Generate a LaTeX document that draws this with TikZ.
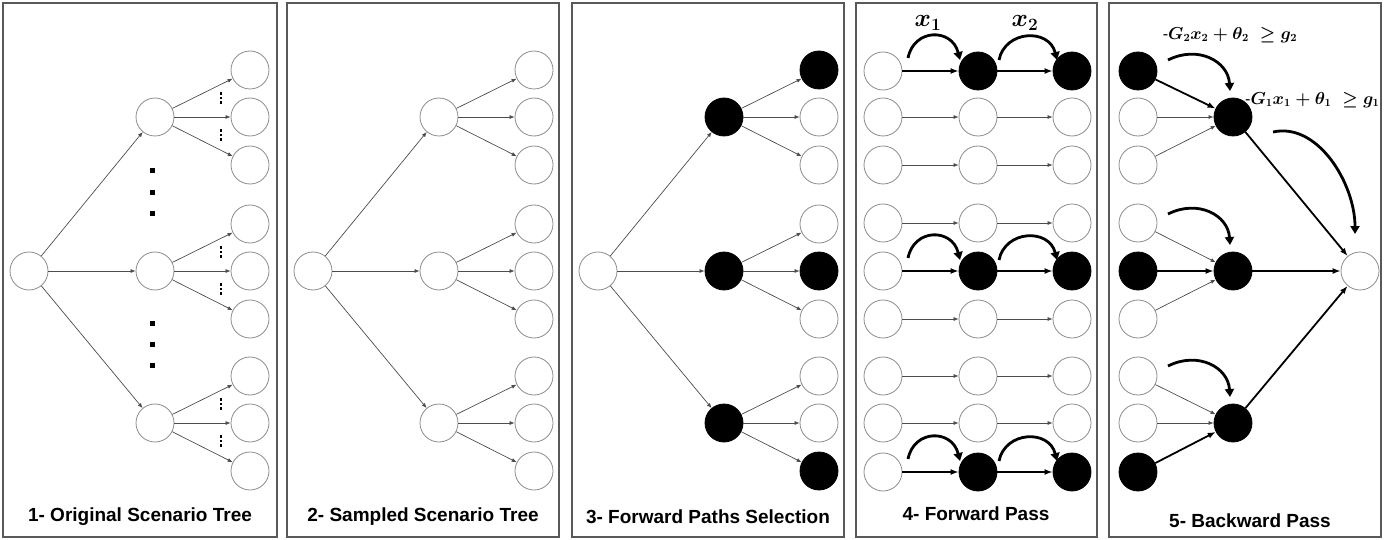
\documentclass[tikz,border=0pt]{standalone}
\usepackage{fontspec}
\setmainfont{Liberation Sans}
\usetikzlibrary{positioning, arrows.meta}

\begin{document}
\begin{tikzpicture}[x=1pt, y=-1pt,
    panel/.style={draw=black!65, line width=1.6pt},
    wnode/.style={circle, draw=black!45, line width=0.8pt, fill=white,
                  minimum size=38pt, inner sep=0pt},
    bnode/.style={wnode, draw=black, fill=black},
    arr/.style={-{Latex[length=5pt,width=4pt]}, draw=black!70, line width=0.7pt},
    barr/.style={-{Latex[length=8pt,width=6pt]}, line width=1.8pt},
    carr/.style={-{Triangle[length=8pt,width=9pt]}, line width=2.8pt},
    caption/.style={font=\fontsize{19}{22}\selectfont\bfseries},
    xlbl/.style={font=\boldmath\fontsize{26}{26}\selectfont, inner sep=0pt},
    eqlbl/.style={font=\boldmath\fontsize{16}{18}\selectfont, inner sep=0pt},
    sq/.style={rectangle, fill=black, minimum size=5pt, inner sep=0pt},
    tinysq/.style={rectangle, fill=black, minimum size=2.3pt, inner sep=0pt},
]
\useasboundingbox (0,0) rectangle (1389,540);

\foreach \a/\b in {3/277, 287/559, 572/844, 856/1097, 1109/1381}
  \draw[panel] (\a,3) rectangle (\b,537);

\foreach \p/\x in {1/3, 2/287, 3/572} {
  \node[wnode] (t\p r) at (\x+26,271) {};
  \foreach \m/\my in {1/117, 2/271, 3/423} {
    \def\st{wnode}\ifnum\p=3 \def\st{bnode}\fi
    \node[\st] (t\p m\m) at (\x+152,\my) {};
    \draw[arr] (t\p r) -- (t\p m\m);
    \foreach \l/\dy in {1/-47, 2/0, 3/48} {
      \def\st{wnode}\ifnum\p=3 \ifnum\l=\m \def\st{bnode}\fi\fi
      \node[\st] (t\p m\m l\l) at (\x+247,\my+\dy) {};
      \draw[arr] (t\p m\m) -- (t\p m\m l\l);
    }
  }
}

\foreach \y [count=\i] in {171, 193, 214, 323, 344, 365}
  \node[sq] (dot\i) at (152,\y) {};
\foreach \m in {1,2,3}
  \foreach \dy in {-19,18}
    \foreach \k in {-4.5,0,4.5}
      \node[tinysq] at ([shift={(66,\dy+\k)}]t1m\m.center) {};

\node[caption] (cap1) at (140,517) {1- Original Scenario Tree};
\node[caption] (cap2) at (423,517) {2- Sampled Scenario Tree};
\node[caption] (cap3) at (708,517) {3- Forward Paths Selection};

\foreach \y/\s/\e [count=\r] in {71/bnode/barr, 117/wnode/arr, 165/wnode/arr,
    223/wnode/arr, 271/bnode/barr, 319/wnode/arr,
    376/wnode/arr, 423/wnode/arr, 472/bnode/barr} {
  \node[wnode] (f\r a) at (883,\y) {};
  \node[\s] (f\r b) at (978,\y) {};
  \node[\s] (f\r c) at (1072,\y) {};
  \draw[\e] (f\r a) -- (f\r b);
  \draw[\e] (f\r b) -- (f\r c);
}
\foreach \r in {1,5,9} {
  \draw[carr] ([shift={(25,-13)}]f\r a.center) .. controls +(6,-30) and +(-8,-32)
    .. ([shift={(-18,-11)}]f\r b.center);
  \draw[carr] ([shift={(21,-11)}]f\r b.center) .. controls +(6,-30) and +(-8,-32)
    .. ([shift={(-15,-11)}]f\r c.center);
}
\node[xlbl] (x1) at (928,23) {$x_1$};
\node[xlbl] (x2) at (1025,23) {$x_2$};
\node[caption] (cap4) at (976,514) {4- Forward Pass};

\node[bnode] (bm1) at (1233,117) {};
\node[bnode] (bm2) at (1233,271) {};
\node[bnode] (bm3) at (1233,423) {};
\node[wnode] (broot) at (1360,271) {};
\foreach \y/\s/\e/\g [count=\r] in {71/bnode/barr/1, 117/wnode/arr/1, 165/wnode/arr/1,
    223/wnode/arr/2, 271/bnode/barr/2, 319/wnode/arr/2,
    376/wnode/arr/3, 423/wnode/arr/3, 472/bnode/barr/3} {
  \node[\s] (b\r) at (1138,\y) {};
  \draw[\e] (b\r) -- (bm\g);
}
\foreach \g in {1,2,3} {
  \draw[barr] (bm\g) -- (broot);
  \draw[carr] ([shift={(-65,-57)}]bm\g.center) .. controls +(30,-15) and +(-2,-30)
    .. ([shift={(-3,-26)}]bm\g.center);
}
\draw[carr] ([shift={(40,15)}]bm1.center) .. controls +(45,-10) and +(0,-50)
  .. ([shift={(-5,-37)}]broot.center);
\node[eqlbl] (eq2) at (1230,35) {-$G_2x_2+\theta_2\;\geq g_2$};
\node[eqlbl, anchor=west] (eq1) at (1245,100) {-$G_1x_1+\theta_1\;\geq g_1$};
\node[caption] (cap5) at (1250,521) {5- Backward Pass};
\end{tikzpicture}
\end{document}
